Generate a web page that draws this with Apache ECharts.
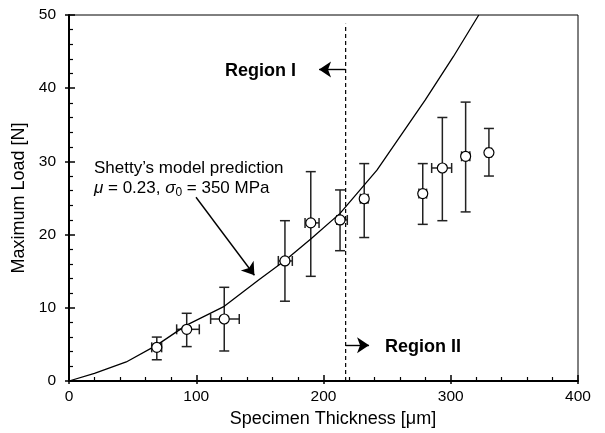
<!DOCTYPE html>
<html>
<head>
<meta charset="utf-8">
<script src="https://cdn.jsdelivr.net/npm/echarts@6/dist/echarts.min.js"></script>
<style>
    html, body { margin: 0; padding: 0; background: #fff; }
    #chart { width: 605px; height: 433px; }
</style>
</head>
<body>
<div id="chart"></div>
<script>
// measured specimens: thickness [um] and maximum load [N], with error ranges
const thickness = [69, 92.5, 122, 169.7, 190, 213, 232, 278, 293.4, 311.7, 330];
const load      = [4.6, 7.06, 8.47, 16.4, 21.6, 22.0, 24.9, 25.6, 29.1, 30.7, 31.2];
const loadLow   = [2.9, 4.7, 4.1, 10.9, 14.3, 17.8, 19.6, 21.4, 21.9, 23.1, 28.0];
const loadHigh  = [6.0, 9.25, 12.8, 21.9, 28.6, 26.1, 29.7, 29.7, 36.0, 38.1, 34.5];
const thickLow  = [65, 84.6, 111.3, 164.5, 185.5, 210.4, 229, 275, 285, 308.5, 328];
const thickHigh = [72.8, 102.4, 133.8, 175.5, 196.5, 218.7, 235, 281, 300.7, 315, 332];

// Shetty's model prediction curve
const modelX = [0, 20, 45, 69, 92, 122, 149, 170, 190, 213, 242, 280, 302, 322];
const modelY = [0, 1.05, 2.6, 4.9, 7.6, 10.2, 13.8, 16.5, 19.4, 22.9, 28.8, 38.4, 44.3, 50];

// region boundary (dashed line)
const boundaryX = 217.4;
const boundaryTop = 48.8;

const font = "'Liberation Sans', Arial, Helvetica, sans-serif";

const chart = echarts.init(document.getElementById('chart'));

const errData = thickness.map((x, i) => [x, load[i], thickLow[i], thickHigh[i], loadLow[i], loadHigh[i]]);

function renderErr(params, api) {
    const c = api.coord([api.value(0), api.value(1)]);
    const top = api.coord([api.value(0), api.value(5)]);
    const bot = api.coord([api.value(0), api.value(4)]);
    const lft = api.coord([api.value(2), api.value(1)]);
    const rgt = api.coord([api.value(3), api.value(1)]);
    const cap = 5;
    const style = { stroke: '#222', lineWidth: 1.5, fill: null };
    const seg = (x1, y1, x2, y2) => ({ type: 'line', shape: { x1, y1, x2, y2 }, style });
    return {
        type: 'group',
        children: [
            seg(c[0], top[1], c[0], bot[1]),
            seg(c[0] - cap, top[1], c[0] + cap, top[1]),
            seg(c[0] - cap, bot[1], c[0] + cap, bot[1]),
            seg(lft[0], c[1], rgt[0], c[1]),
            seg(lft[0], c[1] - cap, lft[0], c[1] + cap),
            seg(rgt[0], c[1] - cap, rgt[0], c[1] + cap)
        ]
    };
}

const baseAxisLine = { show: true, lineStyle: { color: '#000', width: 2 } };

const option = {
    animation: false,
    backgroundColor: '#fff',
    grid: {
        left: 69, right: 27, top: 15, bottom: 52,
        show: true, borderColor: '#000', borderWidth: 1
    },
    xAxis: [
        {
            type: 'value', min: 0, max: 400, interval: 100, position: 'bottom',
            name: 'Specimen Thickness [μm]', nameLocation: 'middle', nameGap: 28,
            nameTextStyle: { fontFamily: font, fontSize: 18, color: '#000', padding: [0, 0, 0, 19] },
            axisLine: baseAxisLine,
            axisTick: { inside: true, length: 6, lineStyle: { color: '#000', width: 1.5 } },
            minorTick: { show: true, splitNumber: 5, length: 4, lineStyle: { color: '#000', width: 1.2 } },
            axisLabel: { fontFamily: font, fontSize: 15.5, color: '#000', margin: 8 },
            splitLine: { show: false }
        },
        {
            type: 'value', min: 0, max: 400, interval: 100, position: 'bottom',
            axisLine: { show: false },
            axisTick: { inside: false, length: 3, lineStyle: { color: '#000', width: 1.5 } },
            axisLabel: { show: false },
            splitLine: { show: false }
        }
    ],
    yAxis: [
        {
            type: 'value', min: 0, max: 50, interval: 10, position: 'left',
            name: 'Maximum Load [N]', nameLocation: 'middle', nameGap: 36,
            nameTextStyle: { fontFamily: font, fontSize: 18, color: '#000' },
            axisLine: baseAxisLine,
            axisTick: { inside: true, length: 6, lineStyle: { color: '#000', width: 1.5 } },
            minorTick: { show: true, splitNumber: 5, length: 4, lineStyle: { color: '#000', width: 1.2 } },
            axisLabel: { fontFamily: font, fontSize: 15.5, color: '#000', margin: 13 },
            splitLine: { show: false }
        },
        {
            type: 'value', min: 0, max: 50, interval: 10, position: 'left',
            axisLine: { show: false },
            axisTick: { inside: false, length: 4, lineStyle: { color: '#000', width: 1.5 } },
            axisLabel: { show: false },
            splitLine: { show: false }
        }
    ],
    series: [
        {
            name: 'error bars',
            type: 'custom',
            renderItem: renderErr,
            data: errData,
            encode: { x: 0, y: 1 },
            z: 2,
            silent: true
        },
        {
            name: 'model',
            type: 'line',
            data: modelX.map((x, i) => [x, modelY[i]]),
            showSymbol: false,
            symbol: 'none',
            lineStyle: { color: '#000', width: 1.3 },
            z: 3,
            markPoint: {
                symbol: 'circle',
                symbolSize: 0,
                silent: true,
                label: {
                    show: true, position: 'right', distance: 0,
                    color: '#000', fontFamily: font
                },
                data: [
                    {
                        coord: [19.6, 27.7],
                        label: {
                            formatter: 'Shetty’s model prediction\n{i|μ} = 0.23, {i|σ}{s|0} = 350 MPa',
                            fontSize: 17, lineHeight: 20,
                            rich: {
                                i: { fontStyle: 'italic', fontSize: 17, lineHeight: 20, fontFamily: font, color: '#000' },
                                s: { fontSize: 12, verticalAlign: 'bottom', fontFamily: font, color: '#000' }
                            }
                        }
                    },
                    {
                        coord: [122.6, 42.35],
                        label: { formatter: 'Region I', fontSize: 18, fontWeight: 'bold' }
                    },
                    {
                        coord: [248.3, 4.69],
                        label: { formatter: 'Region II', fontSize: 18, fontWeight: 'bold' }
                    }
                ]
            }
        },
        {
            name: 'boundary',
            type: 'line',
            data: [[boundaryX, 0], [boundaryX, boundaryTop]],
            symbol: 'none',
            lineStyle: { color: '#000', width: 1.2, type: [4, 3] },
            z: 3,
            markLine: {
                silent: true,
                symbol: ['none', 'arrow'],
                symbolSize: 12,
                label: { show: false },
                lineStyle: { color: '#000', width: 1.4, type: 'solid' },
                data: [
                    [{ coord: [boundaryX, 42.55] }, { coord: [196.5, 42.55] }],
                    [{ coord: [boundaryX, 4.9] }, { coord: [235.8, 4.9] }],
                    [{ coord: [99.8, 25.1] }, { coord: [145.7, 14.45] }]
                ]
            }
        },
        {
            name: 'measured',
            type: 'scatter',
            data: thickness.map((x, i) => [x, load[i]]),
            symbol: 'circle',
            symbolSize: 10,
            itemStyle: { color: '#fff', borderColor: '#000', borderWidth: 1.2, opacity: 1 },
            z: 5
        }
    ]
};

chart.setOption(option);
</script>
</body>
</html>
